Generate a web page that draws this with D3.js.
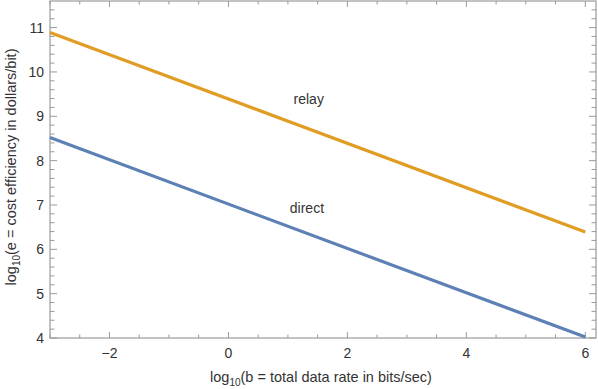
<!DOCTYPE html>
<html>
<head>
<meta charset="utf-8">
<script src="https://cdn.jsdelivr.net/npm/d3@7"></script>
<style>
  body { margin: 0; background: #fff; }
  svg text { font-family: "Liberation Sans", Arial, sans-serif; fill: #333; }
</style>
</head>
<body>
<svg id="chart" width="598" height="389"></svg>
<script>
// datos
const xValues = [-3, 6];
const relayValues = [10.89, 6.39];
const directValues = [8.52, 4.02];
const seriesNames = ["relay", "direct"];
const xTicks = [-2, 0, 2, 4, 6];
const yTicks = [4, 5, 6, 7, 8, 9, 10, 11];

const svg = d3.select("#chart");
const margin = {top: 1, right: 2, bottom: 51, left: 50};
const W = 598, H = 389;

const xMax = 6.18, yMax = 11.6;
const x = d3.scaleLinear().domain([-3, xMax]).range([margin.left, W - margin.right]);
const y = d3.scaleLinear().domain([4, yMax]).range([H - margin.bottom, margin.top]);

const frameColor = "#9a9a9a";

// ticks menores
const xMinor = d3.range(-3, xMax, 0.5);
const yMinor = d3.range(4, yMax, 0.2);

const g = svg.append("g");

function tickSet(vals, major, isX){
  vals.forEach(v=>{
    const isMajor = major.some(m => Math.abs(m - v) < 1e-6);
    const len = isMajor ? 6 : 3.5;
    if(isX){
      const px = x(v);
      g.append("line").attr("x1", px).attr("x2", px).attr("y1", y(4)).attr("y2", y(4) - len)
        .attr("stroke", frameColor);
      g.append("line").attr("x1", px).attr("x2", px).attr("y1", y(yMax)).attr("y2", y(yMax) + len)
        .attr("stroke", frameColor);
    } else {
      const py = y(v);
      g.append("line").attr("y1", py).attr("y2", py).attr("x1", x(-3)).attr("x2", x(-3) + len + 1)
        .attr("stroke", frameColor);
      g.append("line").attr("y1", py).attr("y2", py).attr("x1", x(xMax)).attr("x2", x(xMax) - len - 1)
        .attr("stroke", frameColor);
    }
  });
}
tickSet(xMinor, xTicks, true);
tickSet(yMinor, yTicks, false);

// marco
g.append("rect")
  .attr("x", x(-3)).attr("y", y(yMax))
  .attr("width", x(xMax) - x(-3)).attr("height", y(4) - y(yMax))
  .attr("fill", "none").attr("stroke", frameColor).attr("stroke-width", 1.2);

// etiquetas de ticks
xTicks.forEach(v=>{
  g.append("text").attr("x", x(v)).attr("y", y(4) + 20)
    .attr("text-anchor", "middle").attr("font-size", 14)
    .text(v < 0 ? "\u2212" + Math.abs(v) : v);
});
yTicks.forEach(v=>{
  g.append("text").attr("x", x(-3) - 6).attr("y", y(v) + 5)
    .attr("text-anchor", "end").attr("font-size", 14)
    .text(v);
});

// lineas
const line = d3.line().x((d,i)=> x(xValues[i])).y(d => y(d));
const colors = {relay: "#e19c24", direct: "#5e81b5"};
[relayValues, directValues].forEach((vals, i)=>{
  g.append("path").datum(vals)
    .attr("d", line)
    .attr("fill", "none")
    .attr("stroke", colors[seriesNames[i]])
    .attr("stroke-width", 3.2);
});

// etiquetas de series
g.append("text").attr("x", x(1.35)).attr("y", y(9.28))
  .attr("text-anchor", "middle").attr("font-size", 14).text("relay");
g.append("text").attr("x", x(1.32)).attr("y", y(6.82))
  .attr("text-anchor", "middle").attr("font-size", 14).text("direct");

// titulos de ejes
const xl = g.append("text").attr("x", 321).attr("y", 382)
  .attr("text-anchor", "middle").attr("font-size", 14.5);
xl.append("tspan").text("log");
xl.append("tspan").attr("font-size", 10).attr("dy", 4).text("10");
xl.append("tspan").attr("dy", -4).text("(b = total data rate in bits/sec)");

const yl = g.append("text").attr("transform", "translate(16,167) rotate(-90)")
  .attr("text-anchor", "middle").attr("font-size", 14.5);
yl.append("tspan").text("log");
yl.append("tspan").attr("font-size", 10).attr("dy", 4).text("10");
yl.append("tspan").attr("dy", -4).text("(e = cost efficiency in dollars/bit)");
</script>
</body>
</html>
